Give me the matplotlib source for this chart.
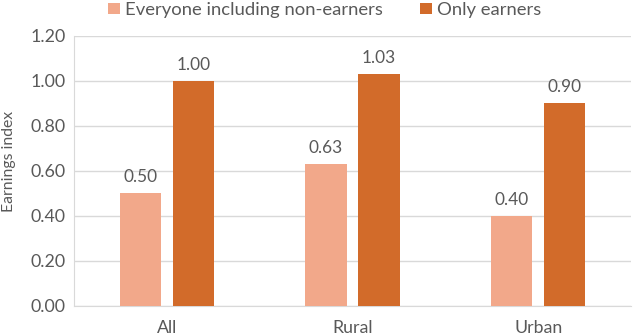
import numpy as np
import matplotlib.pyplot as plt

# Dane
categories = ["All", "Rural", "Urban"]
everyone = [0.50, 0.63, 0.40]
earners = [1.00, 1.03, 0.90]
series_names = ["Everyone including non-earners", "Only earners"]
yticks = [0.0, 0.2, 0.4, 0.6, 0.8, 1.0, 1.2]

colors = ["#F2A88A", "#D26B2A"]
text_color = "#595959"
grid_color = "#D9D9D9"

plt.rcParams['font.family'] = ['Lato', 'DejaVu Sans']

fig = plt.figure(figsize=(6.33, 3.36), dpi=100)
renderer = fig.canvas.get_renderer()


# Dobór rozmiaru czcionki do szerokości tekstu w pikselach
def fit_size(txt, target_px, base=12):
    t = fig.text(0, 0, txt, fontsize=base)
    w = t.get_window_extent(renderer).width
    t.remove()
    return base * target_px / w


legend_fs = fit_size(series_names[0], 257)
tick_fs = fit_size("0.00", 35)
value_fs = fit_size("1.00", 34)
ylabel_fs = fit_size("Earnings index", 100)

ax = fig.add_axes([0.1169, 0.0893, 0.880, 0.8036])

x = np.arange(len(categories))
width = 0.223
off = 0.143

bars1 = ax.bar(x - off, everyone, width, color=colors[0], label=series_names[0], zorder=3)
bars2 = ax.bar(x + off, earners, width, color=colors[1], label=series_names[1], zorder=3)

for bars in (bars1, bars2):
    for b in bars:
        ax.annotate(f"{b.get_height():.2f}", (b.get_x() + b.get_width() / 2, b.get_height()),
                    xytext=(0, 6), textcoords="offset points",
                    ha="center", va="bottom", fontsize=value_fs, color=text_color)

ax.set_xlim(-0.5, 2.5)
ax.set_ylim(0, 1.2)
ax.set_yticks(yticks)
ax.set_yticklabels([f"{v:.2f}" for v in yticks])
ax.set_xticks(x)
ax.set_xticklabels(categories)
ax.tick_params(axis="both", length=0, labelsize=tick_fs, colors=text_color)
ax.tick_params(axis="x", pad=10)
ax.tick_params(axis="y", pad=6)
ax.yaxis.grid(True, color=grid_color, linewidth=1, zorder=0)

for s in ["top", "right"]:
    ax.spines[s].set_visible(False)
for s in ["left", "bottom"]:
    ax.spines[s].set_color(grid_color)

ax.set_ylabel("Earnings index", fontsize=ylabel_fs, color=text_color)
ax.yaxis.set_label_coords(-0.105, 0.535)

fig.legend(handles=[bars1, bars2], loc="center", bbox_to_anchor=(0.513, 0.970), ncol=2,
           frameon=False, fontsize=legend_fs, labelcolor=text_color, handlelength=0.63, handleheight=0.6,
           handletextpad=0.3, columnspacing=2.0, borderpad=0, borderaxespad=0)

fig.savefig("out.png", dpi=100)
